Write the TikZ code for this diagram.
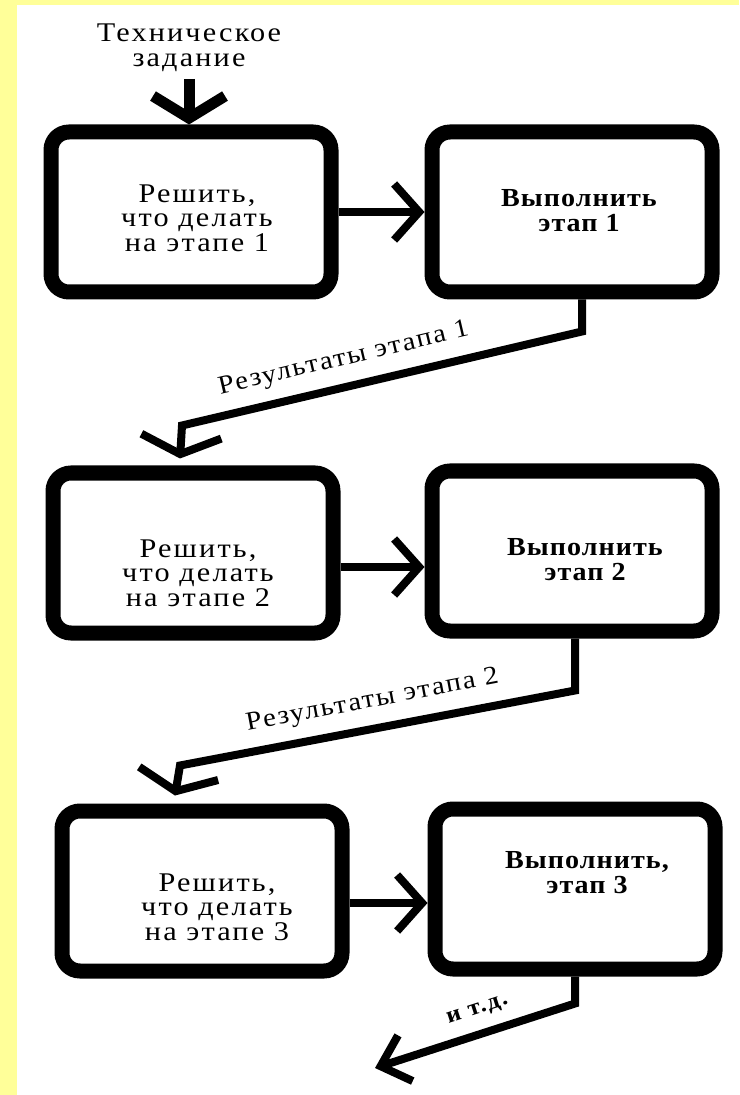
\documentclass[tikz,border=0pt]{standalone}
\usepackage{fontspec}
\setmainfont{Liberation Serif}
\newfontfamily\stagefont{Liberation Serif}[FakeStretch=1.12, LetterSpace=8]
\newfontfamily\execfont{Liberation Serif}[FakeStretch=1.08, LetterSpace=4]
\newfontfamily\resultfont{Liberation Serif}[FakeStretch=1.1, LetterSpace=7]
\usetikzlibrary{arrows.meta}

\definecolor{pageyellow}{HTML}{FFFF99}

\tikzset{
  stagebox/.style={draw, line width=7.5pt, rounded corners=9pt,
    minimum width=140pt, minimum height=80pt, inner sep=0pt},
  boxtext/.style={align=center,
    font=\stagefont\fontsize{13.5}{12.3}\selectfont},
  boldtext/.style={align=center,
    font=\execfont\bfseries\fontsize{13}{12.5}\selectfont},
  steptext/.style={font=\resultfont\fontsize{13}{14}\selectfont, inner sep=1pt},
  conn/.style={line width=4pt},
  feed/.style={line width=5.5pt},
  barb/.style 2 args={-{Straight Barb[length=#1,width=#2]}}
}

\begin{document}
\begin{tikzpicture}[x=0.5pt, y=-0.5pt]
  % page
  \useasboundingbox (0,0) rectangle (739,1095);
  \fill[pageyellow] (0,0) rectangle (739,1095);
  \fill[white] (17,5) rectangle (739,1095);

  % boxes
  \node[stagebox] (b1) at (191,212) {};
  \node[stagebox] (r1) at (572,212) {};
  \node[stagebox] (b2) at (193,553) {};
  \node[stagebox] (r2) at (572,551) {};
  \node[stagebox] (b3) at (202,891) {};
  \node[stagebox] (r3) at (575,889) {};

  % box texts
  \node[boxtext] (b1txt) at ([shift={(6,6)}]b1.center) {Решить,\\что делать\\на этапе 1};
  \node[boldtext] (r1txt) at ([shift={(7,-1)}]r1.center) {Выполнить\\этап 1};
  \node[boxtext] (b2txt) at ([shift={(5,20)}]b2.center) {Решить,\\что делать\\на этапе 2};
  \node[boldtext] (r2txt) at ([shift={(13,9)}]r2.center) {Выполнить\\этап 2};
  \node[boxtext] (b3txt) at ([shift={(15,16)}]b3.center) {Решить,\\что делать\\на этапе 3};
  \node[boldtext] (r3txt) at ([shift={(12,-16)}]r3.center) {Выполнить,\\этап 3};

  \node[boxtext] (task) at (189,48) {Техническое\\задание};
  \coordinate (etc) at (375,1068);

  % arrows
  \draw[feed, barb={11pt}{36pt}] (task.south) -- (task.south |- b1.north);
  \draw[conn, barb={12.5pt}{28pt}] (b1.east) -- (r1.west);
  \draw[conn, barb={12.5pt}{28pt}] ([shift={(0,14)}]b2.east) -- ([shift={(0,14)}]b2.east -| r2.west);
  \draw[conn, barb={12.5pt}{28pt}] ([shift={(0,12)}]b3.east) -- ([shift={(0,12)}]b3.east -| r3.west);

  \draw[conn, barb={9pt}{40pt}] ([shift={(10,0)}]r1.south) -- ++(0,32)
    -- node[steptext, pos=0.58, sloped, above=5pt] {Результаты этапа 1} ([shift={(-11,-40)}]b2.north)
    -- ([shift={(-13,-7)}]b2.north);
  \draw[conn, barb={9pt}{40pt}] ([shift={(3,0)}]r2.south) -- ++(0,52)
    -- node[steptext, pos=0.5, sloped, above=5pt] {Результаты этапа 2} ([shift={(-22,-38)}]b3.north)
    -- ([shift={(-27,-8)}]b3.north);
  \draw[conn, barb={13pt}{24pt}] (r3.south) -- ++(0,27)
    -- node[font=\resultfont\bfseries\fontsize{11.5}{12}\selectfont, inner sep=1pt, pos=0.45, sloped, above=5pt] {и т.д.} (etc);
\end{tikzpicture}
\end{document}
